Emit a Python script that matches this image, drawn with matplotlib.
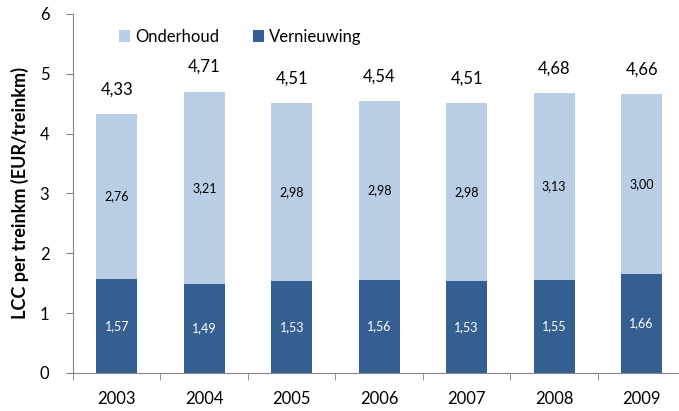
import matplotlib
matplotlib.use('Agg')
import matplotlib.pyplot as plt
import numpy as np

jaren = ['2003', '2004', '2005', '2006', '2007', '2008', '2009']
vernieuwing = [1.57, 1.49, 1.53, 1.56, 1.53, 1.55, 1.66]
onderhoud = [2.76, 3.21, 2.98, 2.98, 2.98, 3.13, 3.00]
totaal = [4.33, 4.71, 4.51, 4.54, 4.51, 4.68, 4.66]

licht = '#b9cde5'
donker = '#365f91'
grijs = '#868686'

plt.rcParams['font.family'] = ['Lato', 'DejaVu Sans']

fig = plt.figure(figsize=(6.79, 4.11), dpi=100)
ax = fig.add_axes([0.1075, 0.0925, 0.902, 0.8735])

x = np.arange(len(jaren))
breedte = 0.47
ax.bar(x, vernieuwing, breedte, color=donker, label='Vernieuwing', zorder=2)
ax.bar(x, onderhoud, breedte, bottom=vernieuwing, color=licht, label='Onderhoud', zorder=2)

def fmt(v):
    return ('%.2f' % v).replace('.', ',')

for i in range(len(jaren)):
    ax.text(x[i], vernieuwing[i] / 2, fmt(vernieuwing[i]), ha='center', va='center',
            color='white', fontsize=9)
    ax.text(x[i], vernieuwing[i] + onderhoud[i] / 2, fmt(onderhoud[i]), ha='center',
            va='center', color='black', fontsize=9)
    ax.annotate(fmt(totaal[i]), (x[i], vernieuwing[i] + onderhoud[i]), xytext=(0, 12),
                textcoords='offset points', ha='center', va='bottom', fontsize=12)

ax.set_xlim(-0.5, len(jaren) - 0.5)
ax.set_ylim(0, 6)
ax.set_yticks(range(7))
ax.set_xticks(x)
ax.set_xticklabels(jaren, fontsize=12)
ax.set_xticks(np.arange(-0.5, len(jaren), 1), minor=True)
ax.tick_params(axis='x', which='major', length=0, pad=13)
ax.tick_params(axis='x', which='minor', length=5, color=grijs, direction='out')
ax.tick_params(axis='y', length=5, color=grijs, labelsize=12, pad=12)

for s in ['top', 'right']:
    ax.spines[s].set_visible(False)
for s in ['left', 'bottom']:
    ax.spines[s].set_color(grijs)

ax.set_ylabel('LCC per treinkm (EUR/treinkm)', fontsize=13, fontweight='bold', labelpad=8)

handles, labels = ax.get_legend_handles_labels()
ax.legend(handles[::-1], labels[::-1], loc='upper left', bbox_to_anchor=(0.05, 1.0),
          ncol=2, frameon=False, fontsize=12, handlelength=0.7, handleheight=0.7,
          handletextpad=0.3, columnspacing=2.0)

fig.savefig('out.png', dpi=100)
